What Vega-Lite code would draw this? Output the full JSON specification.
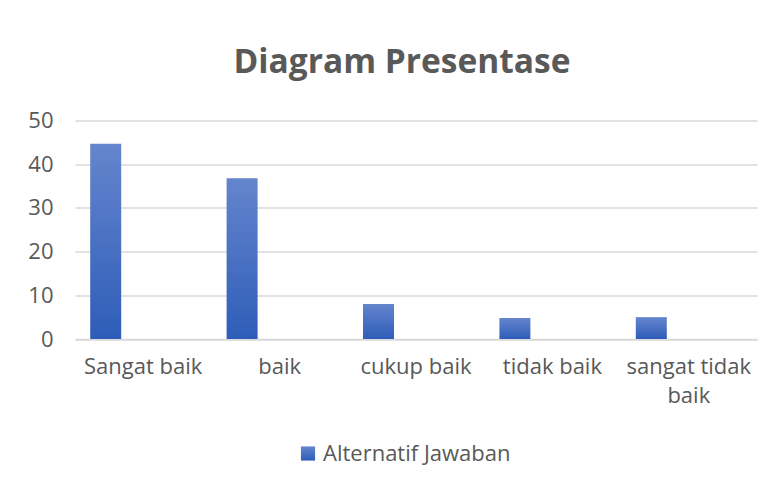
{
  "$schema": "https://vega.github.io/schema/vega-lite/v6.json",
  "width": 682,
  "height": 218.5,
  "autosize": {"type": "none"},
  "padding": {"left": 75, "top": 120.5, "right": 15, "bottom": 145},
  "background": "white",
  "title": {
    "text": "Diagram Presentase",
    "font": "Open Sans",
    "fontSize": 33.5,
    "fontWeight": "bold",
    "color": "#595959",
    "anchor": "middle",
    "dx": -14,
    "offset": 29
  },
  "data": {
    "values": [
      {"kategori": "Sangat baik", "nilai": 44.7, "series": "Alternatif Jawaban"},
      {"kategori": "baik", "nilai": 36.8, "series": "Alternatif Jawaban"},
      {"kategori": "cukup baik", "nilai": 8.0, "series": "Alternatif Jawaban"},
      {"kategori": "tidak baik", "nilai": 4.8, "series": "Alternatif Jawaban"},
      {"kategori": "sangat tidak baik", "nilai": 5.0, "series": "Alternatif Jawaban"}
    ]
  },
  "mark": {
    "type": "bar",
    "width": 31,
    "xOffset": -37.5,
    "strokeWidth": 0,
    "fill": {
      "gradient": "linear",
      "x1": 0, "y1": 0, "x2": 0, "y2": 1,
      "stops": [
        {"offset": 0, "color": "#6585cd"},
        {"offset": 1, "color": "#2e5db8"}
      ]
    }
  },
  "encoding": {
    "x": {
      "field": "kategori",
      "type": "nominal",
      "sort": null,
      "scale": {"paddingInner": 0, "paddingOuter": 0},
      "axis": {
        "title": null,
        "labelAngle": 0,
        "ticks": false,
        "domainColor": "#d9d9d9",
        "domainWidth": 1.5,
        "labelFont": "Open Sans",
        "labelFontSize": 22,
        "labelColor": "#595959",
        "labelPadding": 17,
        "labelLineHeight": 29,
        "labelExpr": "datum.value == 'sangat tidak baik' ? ['sangat tidak', 'baik'] : datum.value"
      }
    },
    "y": {
      "field": "nilai",
      "type": "quantitative",
      "scale": {"domain": [0, 50], "nice": false},
      "axis": {
        "title": null,
        "values": [0, 10, 20, 30, 40, 50],
        "domain": false,
        "ticks": false,
        "gridColor": "#d9d9d9",
        "gridWidth": 1.5,
        "labelFont": "Open Sans",
        "labelFontSize": 22,
        "labelColor": "#595959",
        "labelPadding": 22
      }
    },
    "stroke": {
      "field": "series",
      "type": "nominal",
      "scale": {"range": ["#4472c4"]},
      "legend": {
        "title": null,
        "orient": "none",
        "legendX": 222,
        "legendY": 322,
        "symbolType": "square",
        "symbolSize": 200,
        "symbolFillColor": "#4472c4",
        "symbolStrokeWidth": 0,
        "labelFont": "Open Sans",
        "labelFontSize": 22,
        "labelColor": "#595959",
        "labelOffset": 4,
        "labelLimit": 400
      }
    }
  },
  "config": {
    "view": {"stroke": null}
  }
}
